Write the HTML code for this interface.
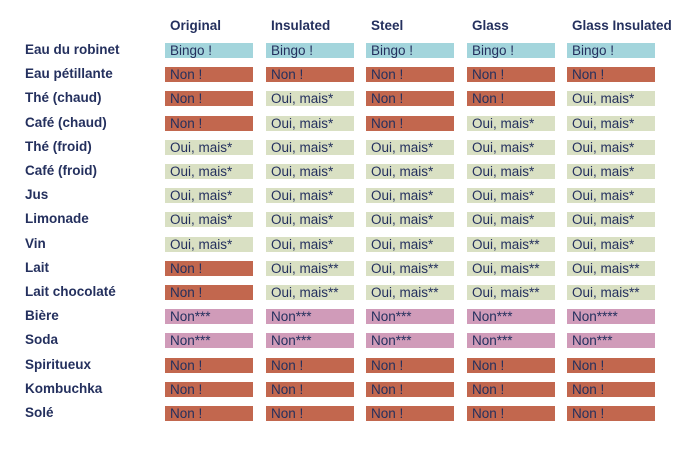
<!DOCTYPE html>
<html><head><meta charset="utf-8"><style>
body{margin:0;width:688px;height:455px;background:#fff;font-family:"Liberation Sans",sans-serif;color:#24305e;position:relative;overflow:hidden}
.h{position:absolute;top:18px;font-weight:bold;font-size:13.5px}
.r{position:absolute;left:25px;font-weight:bold;font-size:13.5px;line-height:16px}
.c{position:absolute;width:88px;height:15px;line-height:15px;font-size:13.5px;padding-left:5px;box-sizing:border-box;white-space:nowrap}
.b{background:#a3d5dc}.n{background:#c2674e}.o{background:#d9e0c3}.p{background:#d09bb9}
</style></head><body>
<div id="root"></div>
<script>
const cols=["Original","Insulated","Steel","Glass","Glass Insulated"];
const rows=["Eau du robinet","Eau pétillante","Thé (chaud)","Café (chaud)","Thé (froid)","Café (froid)","Jus","Limonade","Vin","Lait","Lait chocolaté","Bière","Soda","Spiritueux","Kombuchka","Solé"];
const vals=[
["B","B","B","B","B"],
["N","N","N","N","N"],
["N","O","N","N","O"],
["N","O","N","O","O"],
["O","O","O","O","O"],
["O","O","O","O","O"],
["O","O","O","O","O"],
["O","O","O","O","O"],
["O","O","O","O2","O"],
["N","O2","O2","O2","O2"],
["N","O2","O2","O2","O2"],
["P3","P3","P3","P3","P4"],
["P3","P3","P3","P3","P3"],
["N","N","N","N","N"],
["N","N","N","N","N"],
["N","N","N","N","N"]];
const txt={B:"Bingo !",N:"Non !",O:"Oui, mais*",O2:"Oui, mais**",P3:"Non***",P4:"Non****"};
const cls={B:"b",N:"n",O:"o",O2:"o",P3:"p",P4:"p"};
const colX=[165,266,366,467,567];
const root=document.getElementById('root');
cols.forEach((c,i)=>{const d=document.createElement('div');d.className='h';d.style.left=(colX[i]+5)+'px';d.textContent=c;


root.appendChild(d);});
rows.forEach((r,j)=>{const y=43+j*24.2;
const l=document.createElement('div');l.className='r';l.style.top=(y-1)+'px';l.textContent=r;


root.appendChild(l);
vals[j].forEach((v,i)=>{const d=document.createElement('div');d.className='c '+cls[v];d.style.left=colX[i]+'px';d.style.top=y+'px';d.textContent=txt[v];


root.appendChild(d);});});
</script>
</body></html>
